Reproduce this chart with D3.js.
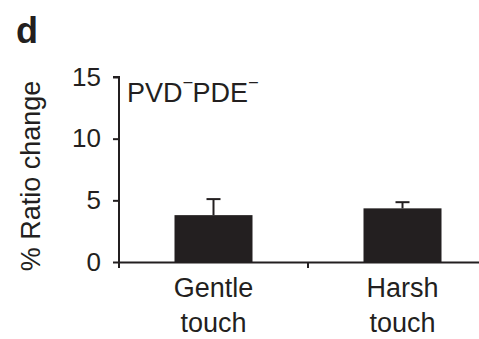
<!DOCTYPE html>
<html>
<head>
<meta charset="utf-8">
<script src="https://cdn.jsdelivr.net/npm/d3@7"></script>
<style>
  html, body { margin: 0; padding: 0; background: #fff; }
  svg { display: block; }
  text { font-family: "Liberation Sans", Arial, sans-serif; fill: #231f20; }
</style>
</head>
<body>
<svg id="chart" width="479" height="339"></svg>
<script>
// Mean ratio change per stimulus, with SEM
const categories = ["Gentle touch", "Harsh touch"];
const means = [3.8, 4.35];
const errors = [1.3, 0.5];
const yTicks = [0, 5, 10, 15];

const svg = d3.select("#chart");
const ink = "#231f20";

const x = d3.scaleBand().domain(categories).range([119, 497]).paddingInner(0).paddingOuter(0);
const y = d3.scaleLinear().domain([0, 15]).range([262, 77]);
const barW = 78;

// Panel letter
svg.append("text").attr("x", 16).attr("y", 43)
  .style("font-size", "36px").style("font-weight", "bold").text("d");

// Bars
svg.append("g").selectAll("rect").data(categories).join("rect")
  .attr("x", d => x(d) + x.bandwidth() / 2 - barW / 2)
  .attr("width", barW)
  .attr("y", (d, i) => y(means[i]))
  .attr("height", (d, i) => y(0) - y(means[i]))
  .attr("fill", ink);

// Error bars (upper only)
const eb = svg.append("g").attr("stroke", ink).attr("stroke-width", 2);
categories.forEach((c, i) => {
  const cx = x(c) + x.bandwidth() / 2;
  eb.append("line").attr("x1", cx).attr("x2", cx)
    .attr("y1", y(means[i])).attr("y2", y(means[i] + errors[i]));
  eb.append("line").attr("x1", cx - 7).attr("x2", cx + 7)
    .attr("y1", y(means[i] + errors[i])).attr("y2", y(means[i] + errors[i]));
});

// Y axis
const yAxis = svg.append("g").attr("transform", "translate(119,0)")
  .call(d3.axisLeft(y).tickValues(yTicks).tickSize(6).tickPadding(12));
yAxis.select(".domain").attr("stroke", ink).attr("stroke-width", 2).attr("d", `M-6,${y(15)}H0V${y(0)}`);
yAxis.selectAll(".tick line").attr("stroke", ink).attr("stroke-width", 2);
yAxis.selectAll(".tick text").style("font-size", "26px").attr("fill", ink)
  .style("font-family", "Liberation Sans, Arial, sans-serif");

// X axis
const xAxis = svg.append("g").attr("transform", `translate(0,${y(0)})`)
  .call(d3.axisBottom(x).tickSize(0).tickFormat(""));
xAxis.select(".domain").attr("stroke", ink).attr("stroke-width", 2);
xAxis.selectAll(".tick").remove();
const bounds = [119, 119 + x.bandwidth(), 119 + 2 * x.bandwidth()];
xAxis.selectAll("line.sep").data(bounds).join("line").attr("class", "sep")
  .attr("x1", d => d).attr("x2", d => d).attr("y1", 0).attr("y2", 6)
  .attr("stroke", ink).attr("stroke-width", 2);

// Category labels (two lines)
categories.forEach(c => {
  const cx = x(c) + x.bandwidth() / 2;
  const words = c.split(" ");
  const t = svg.append("text").attr("text-anchor", "middle").style("font-size", "27px");
  t.append("tspan").attr("x", cx).attr("y", 297).text(words[0]);
  t.append("tspan").attr("x", cx).attr("y", 332).text(words[1]);
});

// Y axis title
svg.append("text")
  .attr("transform", "translate(40,176) rotate(-90)")
  .attr("text-anchor", "middle").style("font-size", "27px").text("% Ratio change");

// Genotype label
const g = svg.append("text").attr("x", 127).attr("y", 102).style("font-size", "27px");
g.append("tspan").text("PVD");
g.append("tspan").attr("dy", -15).attr("dx", 1).style("font-size", "16px").text("\u2013");
g.append("tspan").attr("dy", 15).text("PDE");
g.append("tspan").attr("dy", -15).attr("dx", 1).style("font-size", "16px").text("\u2013");
</script>
</body>
</html>
